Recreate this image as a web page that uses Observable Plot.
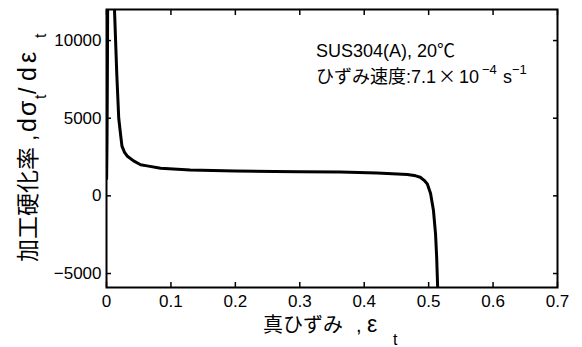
<!DOCTYPE html>
<html>
<head>
<meta charset="utf-8">
<script src="https://cdn.jsdelivr.net/npm/d3@7"></script>
<script src="https://cdn.jsdelivr.net/npm/@observablehq/plot@0.6"></script>
<style>
  html, body { margin: 0; padding: 0; background: #fff; }
  svg text { font-family: "Liberation Sans", Arial, "Noto Sans CJK JP", sans-serif; }
</style>
</head>
<body>
<div id="chart"></div>
<script>
// True strain (x) and work-hardening rate dσt/dεt (y)
const strain = [0.0002, 0.0008, 0.0015, 0.0025, 0.0035, 0.0100, 0.0124, 0.0160, 0.0190, 0.0220, 0.0240, 0.0280, 0.0320, 0.0420, 0.0530, 0.0630, 0.0840, 0.1300, 0.2000, 0.2600, 0.3000, 0.3630, 0.4200, 0.4670, 0.4800, 0.4870, 0.4930, 0.4980, 0.5030, 0.5075, 0.5107, 0.5125, 0.5140, 0.5145];
const rate   = [1100,   3500,   9000,   20000,  30000,  30000,  12000,  7800,   5000,   3900,   3200,   2800,   2570,   2250,   2000,   1930,   1780,   1670,   1600,   1570,   1560,   1530,   1470,   1380,   1290,   1200,   1000,   770,    150,    -950,   -2450,  -4000,  -5900,  -7000];

const xTicks = [0, 0.1, 0.2, 0.3, 0.4, 0.5, 0.6, 0.7];
const yTicks = [-5000, 0, 5000, 10000];
const xDomain = [0, 0.7];
const yDomain = [-5900, 12000];

const data = strain.map((x, i) => ({x, y: rate[i]}));

const W = 582, H = 347;
const mL = 106, mR = 25, mT = 9, mB = 60;
const font = '"Liberation Sans", Arial, "Noto Sans CJK JP", sans-serif';

const chart = Plot.plot({
  width: W,
  height: H,
  marginLeft: mL,
  marginRight: mR,
  marginTop: mT,
  marginBottom: mB,
  style: {fontFamily: font, fontSize: "17px", color: "#000", background: "#fff"},
  x: {domain: xDomain},
  y: {domain: yDomain},
  marks: [
    Plot.line(data, {x: "x", y: "y", stroke: "#000", strokeWidth: 3, clip: true}),
    Plot.axisX(xTicks, {anchor: "bottom", tickSize: 0, tickPadding: 7, fontSize: 17, label: null, tickFormat: d => String(d)}),
    Plot.axisX(xTicks, {anchor: "bottom", tickSize: -5, tickFormat: () => "", label: null, strokeWidth: 1.5}),
    Plot.axisX(xTicks, {anchor: "top", tickSize: -5, tickFormat: () => "", label: null, strokeWidth: 1.5}),
    Plot.axisY(yTicks, {anchor: "left", tickSize: 0, tickPadding: 5, fontSize: 17, label: null, tickFormat: d => d < 0 ? "\u2212" + Math.abs(d) : String(d)}),
    Plot.axisY(yTicks, {anchor: "left", tickSize: -5, tickFormat: () => "", label: null, strokeWidth: 1.5}),
    Plot.axisY(yTicks, {anchor: "right", tickSize: -5, tickFormat: () => "", label: null, strokeWidth: 1.5}),
    Plot.frame({stroke: "#000", strokeWidth: 2})
  ]
});

document.getElementById("chart").appendChild(chart);

const svg = d3.select(chart);
function piece(sel, txt, x, dy, size) {
  const t = sel.append("tspan").attr("x", x).text(txt);
  if (dy) t.attr("dy", dy);
  if (size) t.attr("font-size", size);
  return t;
}

// x label
const xl = svg.append("text")
  .attr("y", 332)
  .attr("text-anchor", "start")
  .attr("font-size", 20)
  .attr("fill", "#000");
piece(xl, "真ひずみ", 263);
piece(xl, ",", 356);
piece(xl, "ε", 367, null, 23);
piece(xl, "t", 393, 13, 16);

// y label (rotated; x in rotated frame runs upward from the bottom of the text)
const yl = svg.append("text")
  .attr("transform", "translate(36,262) rotate(-90)")
  .attr("text-anchor", "start")
  .attr("font-size", 23)
  .attr("fill", "#000");
piece(yl, "加工硬化率", 0);
piece(yl, ",", 121);
piece(yl, "d", 130, null, 25);
piece(yl, "σ", 146, null, 25);
piece(yl, "t", 163, 10, 16);
piece(yl, "/", 168, -10, 23);
piece(yl, "d", 181, null, 25);
piece(yl, "ε", 199, null, 25);
piece(yl, "t", 224, 10, 16);

// annotation
svg.append("text")
  .attr("x", 316).attr("y", 57)
  .attr("text-anchor", "start")
  .attr("font-size", 18).attr("fill", "#000")
  .text("SUS304(A), 20℃");
const a2 = svg.append("text")
  .attr("y", 83)
  .attr("text-anchor", "start")
  .attr("font-size", 18).attr("fill", "#000");
piece(a2, "ひずみ速度", 316);
piece(a2, ":7.1", 406);
piece(a2, "×", 438).attr("font-family", '"Noto Sans CJK JP", sans-serif');
piece(a2, "10", 459);
piece(a2, "−4", 482, -9, 13);
piece(a2, "s", 503, 9);
piece(a2, "−1", 512, -9, 13);
</script>
</body>
</html>
